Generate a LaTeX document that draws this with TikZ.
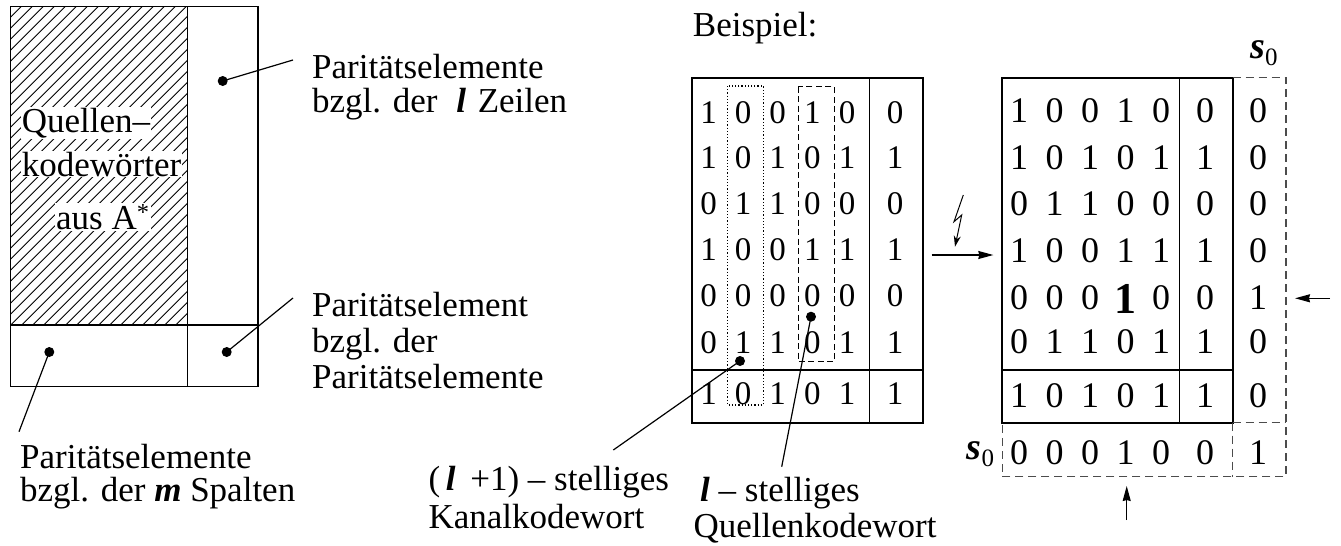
\documentclass[tikz,border=0pt]{standalone}
\usepackage{fontspec}
\setmainfont{Liberation Serif}
\usetikzlibrary{arrows.meta}
\newcommand\bil{\textbf{\textit{l}}}
\newcommand\bim{\textbf{\textit{m}}}
\newcommand\bis{\textbf{\textit{s}}}
\newcommand\szero{{\fontsize{38}{38}\selectfont\bis}\raisebox{-7pt}{\fontsize{25}{25}\selectfont 0}}
\newcommand\bigone{\raisebox{-4pt}{\fontsize{44}{44}\selectfont\bfseries 1}}
\tikzset{
 lab/.style={anchor=base west, inner sep=0pt, font=\fontsize{35}{35}\selectfont},
 hlab/.style={lab, fill=white, inner sep=1pt},
 dig/.style={anchor=base, inner sep=0pt, font=\fontsize{33}{33}\selectfont},
 digr/.style={anchor=base, inner sep=0pt, font=\fontsize{36}{36}\selectfont},
 dotn/.style={circle, fill=black, inner sep=0pt, minimum size=10pt},
 thinl/.style={line width=1.2pt},
 frame/.style={line width=2pt},
 dashr/.style={line width=1.2pt, black!70, dash pattern=on 8pt off 5pt},
 arr/.style={line width=1.2pt, -{Stealth[length=15pt,width=8pt,inset=1pt]}},
}
\begin{document}
\begin{tikzpicture}[x=1pt,y=-1pt]
\useasboundingbox (0,0) rectangle (1341,546);
% ---------- left diagram ----------
\begin{scope}
\clip (10.7,6.7) rectangle (187.7,325);
\foreach \i in {-32,...,17} \draw[line width=0.8pt] (10.7+\i*11,325) -- ++(330,-330);
\end{scope}
\draw[thinl] (10.7,6.7) rectangle (258,386.7);
\draw[thinl] (187.7,6.7) -- (187.7,386.7);
\draw[thinl] (10.7,325) -- (258,325);
\node[hlab] (q1) at (20.7,132) {Quellen--};
\node[hlab] (q2) at (20.7,176) {kodewörter};
\node[hlab] (q3) at (55,229.3) {aus A\textsuperscript{*}};
\node[dotn] (d1) at (222.7,81) {};
\node[dotn] (d2) at (226.7,352) {};
\node[dotn] (d3) at (49.3,352) {};
\coordinate (e1) at (293,60);
\coordinate (e2) at (293,298);
\coordinate (e3) at (19,431.7);
\draw[thinl] (d1.center) -- (e1);
\draw[thinl] (d2.center) -- (e2);
\draw[thinl] (d3.center) -- (e3);
\node[lab] (l1a) at (312,78) {Paritätselemente};
\node[lab] (l1b) at (312,112) {bzgl. der \hspace{10pt}\bil\ \hspace{3pt}Zeilen};
\node[lab] (l2a) at (312,316.7) {Paritätselement};
\node[lab] (l2b) at (312,352.5) {bzgl. der};
\node[lab] (l2c) at (312,388) {Paritätselemente};
\node[lab] (l3a) at (20,468) {Paritätselemente};
\node[lab] (l3b) at (20,501.7) {bzgl. der \bim\ Spalten};
% ---------- middle matrix ----------
\node[lab] (bsp) at (692.7,36.7) {Beispiel:};
\draw[frame] (692.3,78.3) rectangle (922.7,422.7);
\draw[thinl] (869.3,78.3) -- (869.3,422.7);
\draw[thinl] (692.3,370) -- (922.7,370);
\def\mx{{708.5,743,777.7,812.3,847,895}}
\def\my{{123,168,214,260,306,353,404}}
\foreach \row [count=\r] in {{1,0,0,1,0,0},{1,0,1,0,1,1},{0,1,1,0,0,0},{1,0,0,1,1,1},{0,0,0,0,0,0},{0,1,1,0,1,1},{1,0,1,0,1,1}}{
  \foreach \v [count=\c] in \row {
    \pgfmathsetmacro\xx{\mx[\c-1]}
    \pgfmathsetmacro\yy{\my[\r-1]}
    \node[dig] (m-\r-\c) at (\xx,\yy) {\v};
  }
}
\draw[line width=1.2pt, dotted] (727.7,86) rectangle (763.3,405);
\draw[line width=1.2pt, dash pattern=on 6pt off 3.5pt] (798.3,86.7) rectangle (834.3,361.7);
\node[dotn] (k1) at (740,361) {};
\node[dotn] (k2) at (811,316.7) {};
\coordinate (f1) at (613.3,450);
\coordinate (f2) at (781.7,466.7);
\draw[thinl] (k1.center) -- (f1);
\draw[thinl] (k2.center) -- (f2);
\node[lab] (c1a) at (428.3,490) {(\thinspace\bil\thinspace\ +1) -- stelliges};
\node[lab] (c1b) at (428.3,528.3) {Kanalkodewort};
\node[lab] (c2a) at (700,501.7) {\bil\ -- stelliges};
\node[lab] (c2b) at (693.3,537.5) {Quellenkodewort};
% ---------- arrows ----------
\coordinate (a1s) at (931.7,255);
\coordinate (a1e) at (993.3,255);
\draw[arr] (a1s) -- (a1e);
\coordinate (z1) at (963.3,195);
\coordinate (z2) at (954,221.7);
\coordinate (z3) at (961.7,215);
\coordinate (z4) at (955,246.7);
\draw[line width=1pt, -{Stealth[length=11pt,width=7pt]}] (z1) -- (z2) -- (z3) -- (z4);
% ---------- right matrix ----------
\draw[frame] (1002.3,77.7) rectangle (1232.7,422.7);
\draw[thinl] (1179.3,77.7) -- (1179.3,422.7);
\draw[thinl] (1002.3,370) -- (1232.7,370);
\draw[dashr] (1232.7,77.7) -- (1286,77.7) -- (1286,476.7) -- (1002.3,476.7) -- (1002.3,422.7);
\draw[dashr] (1232.7,422.7) -- (1286,422.7);
\draw[dashr] (1232.7,422.7) -- (1232.7,476.7);
\def\rx{{1019,1054.5,1090,1125.5,1161,1205,1258}}
\def\ry{{122,169,215,262,309,353,407,464}}
\foreach \row [count=\r] in {{1,0,0,1,0,0,0},{1,0,1,0,1,1,0},{0,1,1,0,0,0,0},{1,0,0,1,1,1,0},{0,0,0,\bigone,0,0,1},{0,1,1,0,1,1,0},{1,0,1,0,1,1,0},{0,0,0,1,0,0,1}}{
  \foreach \v [count=\c] in \row {
    \pgfmathsetmacro\xx{\rx[\c-1]}
    \pgfmathsetmacro\yy{\ry[\r-1]}
    \node[digr] (r-\r-\c) at (\xx,\yy) {\v};
  }
}
\node[lab] (s0t) at (1250,58) {\szero};
\node[lab] (s0l) at (966.7,459.3) {\szero};
\coordinate (a2s) at (1330,298.3);
\coordinate (a2e) at (1295,298.3);
\draw[arr] (a2s) -- (a2e);
\coordinate (a3s) at (1126.7,520);
\coordinate (a3e) at (1126.7,486);
\draw[arr] (a3s) -- (a3e);
\end{tikzpicture}
\end{document}
